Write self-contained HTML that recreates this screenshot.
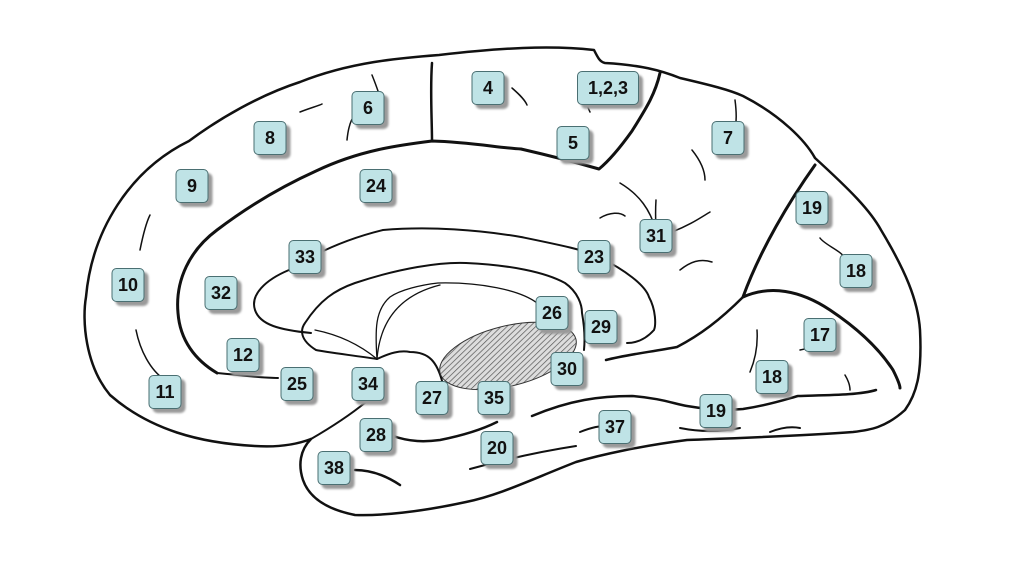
<!DOCTYPE html>
<html><head><style>
body{margin:0;width:1023px;height:583px;background:#fff;position:relative;overflow:hidden;font-family:"Liberation Sans",sans-serif}
svg{position:absolute;left:0;top:0}
.b{position:absolute;height:34px;min-width:33px;box-sizing:border-box;background:#bfe3e6;border:1px solid #4a6f72;border-radius:5px;box-shadow:4px 4px 2px #9a9a9a;font-weight:bold;font-size:18px;line-height:32px;text-align:center;color:#111;transform:translate(-50%,-50%)}
</style></head><body>
<svg width="1023" height="583" viewBox="0 0 1023 583">
<defs><pattern id="h" width="4" height="4" patternUnits="userSpaceOnUse" patternTransform="rotate(-30)"><rect width="4" height="4" fill="#ddd"/><line x1="0" y1="0" x2="4" y2="0" stroke="#555" stroke-width="1.4"/></pattern></defs>
<g fill="none" stroke="#111" stroke-linecap="round" stroke-linejoin="round">
<path stroke-width="2.5" d="M311 439 C290 447 270 447 255 446 C200 443 150 430 110 395 C85 365 82 320 86 297 C92 230 130 170 189 141 C220 118 260 95 300 82 C350 62 400 58 439 55 C500 48 550 45 594 50 C598 58 600 62 605 63 C640 65 660 70 680 78 C710 85 730 90 743 96 C780 115 805 140 815 158 C850 190 870 210 881 230 C905 270 918 300 920 330 C922 370 918 392 905 410 C885 428 870 430 853 432 C800 436 740 438 687 440 C640 446 600 455 576 462 C530 480 500 495 466 502 C420 512 380 516 355 515 C330 510 310 500 303 480 C298 465 300 450 311 439"/>
<path stroke-width="2" d="M366 402 C350 415 330 428 311 439"/>
<path stroke-width="3" d="M217 373 C195 360 180 340 178 313 C175 280 190 250 217 230 C250 205 285 185 316 171 C360 150 400 145 432 141 C470 142 500 148 521 149 C560 158 585 165 599 169 C610 160 622 145 632 131 C645 110 655 95 660 73"/>
<path stroke-width="2.5" d="M432 63 C430 90 432 120 432 141"/>
<path stroke-width="2" d="M217 373 C240 375 260 378 278 378"/>
<path stroke-width="3" d="M815 165 C790 200 760 250 743 297 C770 285 800 290 830 310 C860 330 880 350 893 370 C898 380 900 385 900 388"/>
<path stroke-width="2.5" d="M743 297 C720 320 700 335 677 347 C650 352 625 355 606 360"/>
<path stroke-width="2" d="M311 333 C280 330 260 325 255 310 C250 295 265 280 289 270 C320 250 350 238 383 230 C430 226 480 230 521 237 C560 245 585 250 599 257 C625 270 645 285 649 297 C656 310 656 325 654 330 C645 340 635 343 627 343"/>
<path stroke-width="2" d="M377 359 C350 355 325 352 316 350 C300 340 300 330 305 323 C320 300 335 290 355 283 C400 268 440 262 466 263 C510 265 545 272 565 283 C578 292 582 305 582 313 C585 330 585 340 584 350"/>
<path stroke-width="1.3" d="M377 359 C375 330 375 310 390 297 C400 290 420 285 438 283 C480 282 520 290 537 303"/>
<path stroke-width="1.3" d="M377 359 C380 320 400 295 440 285"/>
<path stroke-width="1.3" d="M377 359 C360 345 340 335 315 330"/>
<path stroke-width="2" d="M377 359 C390 353 400 350 410 352 C428 352 438 360 444 389"/>
<ellipse cx="508" cy="356" rx="70" ry="30" transform="rotate(-14 508 356)" fill="url(#h)" stroke="#333" stroke-width="1"/>
<path stroke-width="2.5" d="M532 416 C570 400 600 396 632 396 C660 398 675 404 687 406 C710 410 730 410 743 409 C770 405 790 398 798 396 C830 395 860 395 876 390"/>
<path stroke-width="2.5" d="M393 436 C410 442 425 442 440 440 C465 435 485 428 497 422"/>
<path stroke-width="2" d="M470 469 C510 458 550 450 576 446"/>
<path stroke-width="2" d="M580 432 C590 428 600 425 612 426"/>
<path stroke-width="2" d="M680 428 C700 432 720 432 740 428"/>
<path stroke-width="2" d="M770 432 C780 428 790 426 800 428"/>
<path stroke-width="2.5" d="M355 470 C370 470 385 475 400 485"/>
<path stroke-width="1.5" d="M600 218 C610 212 620 212 625 216"/>
<path stroke-width="1.5" d="M620 183 C640 195 650 210 656 230 M656 200 C655 215 656 225 656 230 M672 232 C690 225 700 218 710 212 M680 270 C690 262 700 258 712 262 M692 150 C700 160 705 170 705 180"/>
<path stroke-width="1.5" d="M150 215 C145 225 142 240 140 250 M136 330 C140 350 150 370 165 380"/>
<path stroke-width="1.5" d="M355 115 C350 120 348 130 347 140 M372 75 C376 85 380 95 382 105 M300 112 C310 108 318 106 322 104 M512 88 C520 95 525 100 527 105 M582 92 C585 100 588 108 590 112"/>
<path stroke-width="1.5" d="M757 330 C758 345 755 360 750 372 M800 350 C810 348 815 345 820 342 M845 375 C848 380 850 385 850 390 M820 238 C825 245 840 250 845 258 M735 100 C737 115 736 125 735 130"/>
</g>
</svg>
<div class="b" style="left:488px;top:88px">4</div>
<div class="b" style="left:608px;top:88px;width:62px">1,2,3</div>
<div class="b" style="left:368px;top:108px">6</div>
<div class="b" style="left:270px;top:138px">8</div>
<div class="b" style="left:573px;top:143px">5</div>
<div class="b" style="left:728px;top:138px">7</div>
<div class="b" style="left:376px;top:186px">24</div>
<div class="b" style="left:192px;top:186px">9</div>
<div class="b" style="left:812px;top:208px">19</div>
<div class="b" style="left:656px;top:236px">31</div>
<div class="b" style="left:305px;top:257px">33</div>
<div class="b" style="left:594px;top:257px">23</div>
<div class="b" style="left:856px;top:271px">18</div>
<div class="b" style="left:128px;top:285px">10</div>
<div class="b" style="left:221px;top:293px">32</div>
<div class="b" style="left:552px;top:313px">26</div>
<div class="b" style="left:601px;top:327px">29</div>
<div class="b" style="left:820px;top:335px">17</div>
<div class="b" style="left:243px;top:355px">12</div>
<div class="b" style="left:567px;top:369px">30</div>
<div class="b" style="left:772px;top:377px">18</div>
<div class="b" style="left:297px;top:384px">25</div>
<div class="b" style="left:368px;top:384px">34</div>
<div class="b" style="left:432px;top:398px">27</div>
<div class="b" style="left:494px;top:398px">35</div>
<div class="b" style="left:165px;top:392px">11</div>
<div class="b" style="left:716px;top:411px">19</div>
<div class="b" style="left:615px;top:427px">37</div>
<div class="b" style="left:376px;top:435px">28</div>
<div class="b" style="left:497px;top:448px">20</div>
<div class="b" style="left:334px;top:468px">38</div>
</body></html>
